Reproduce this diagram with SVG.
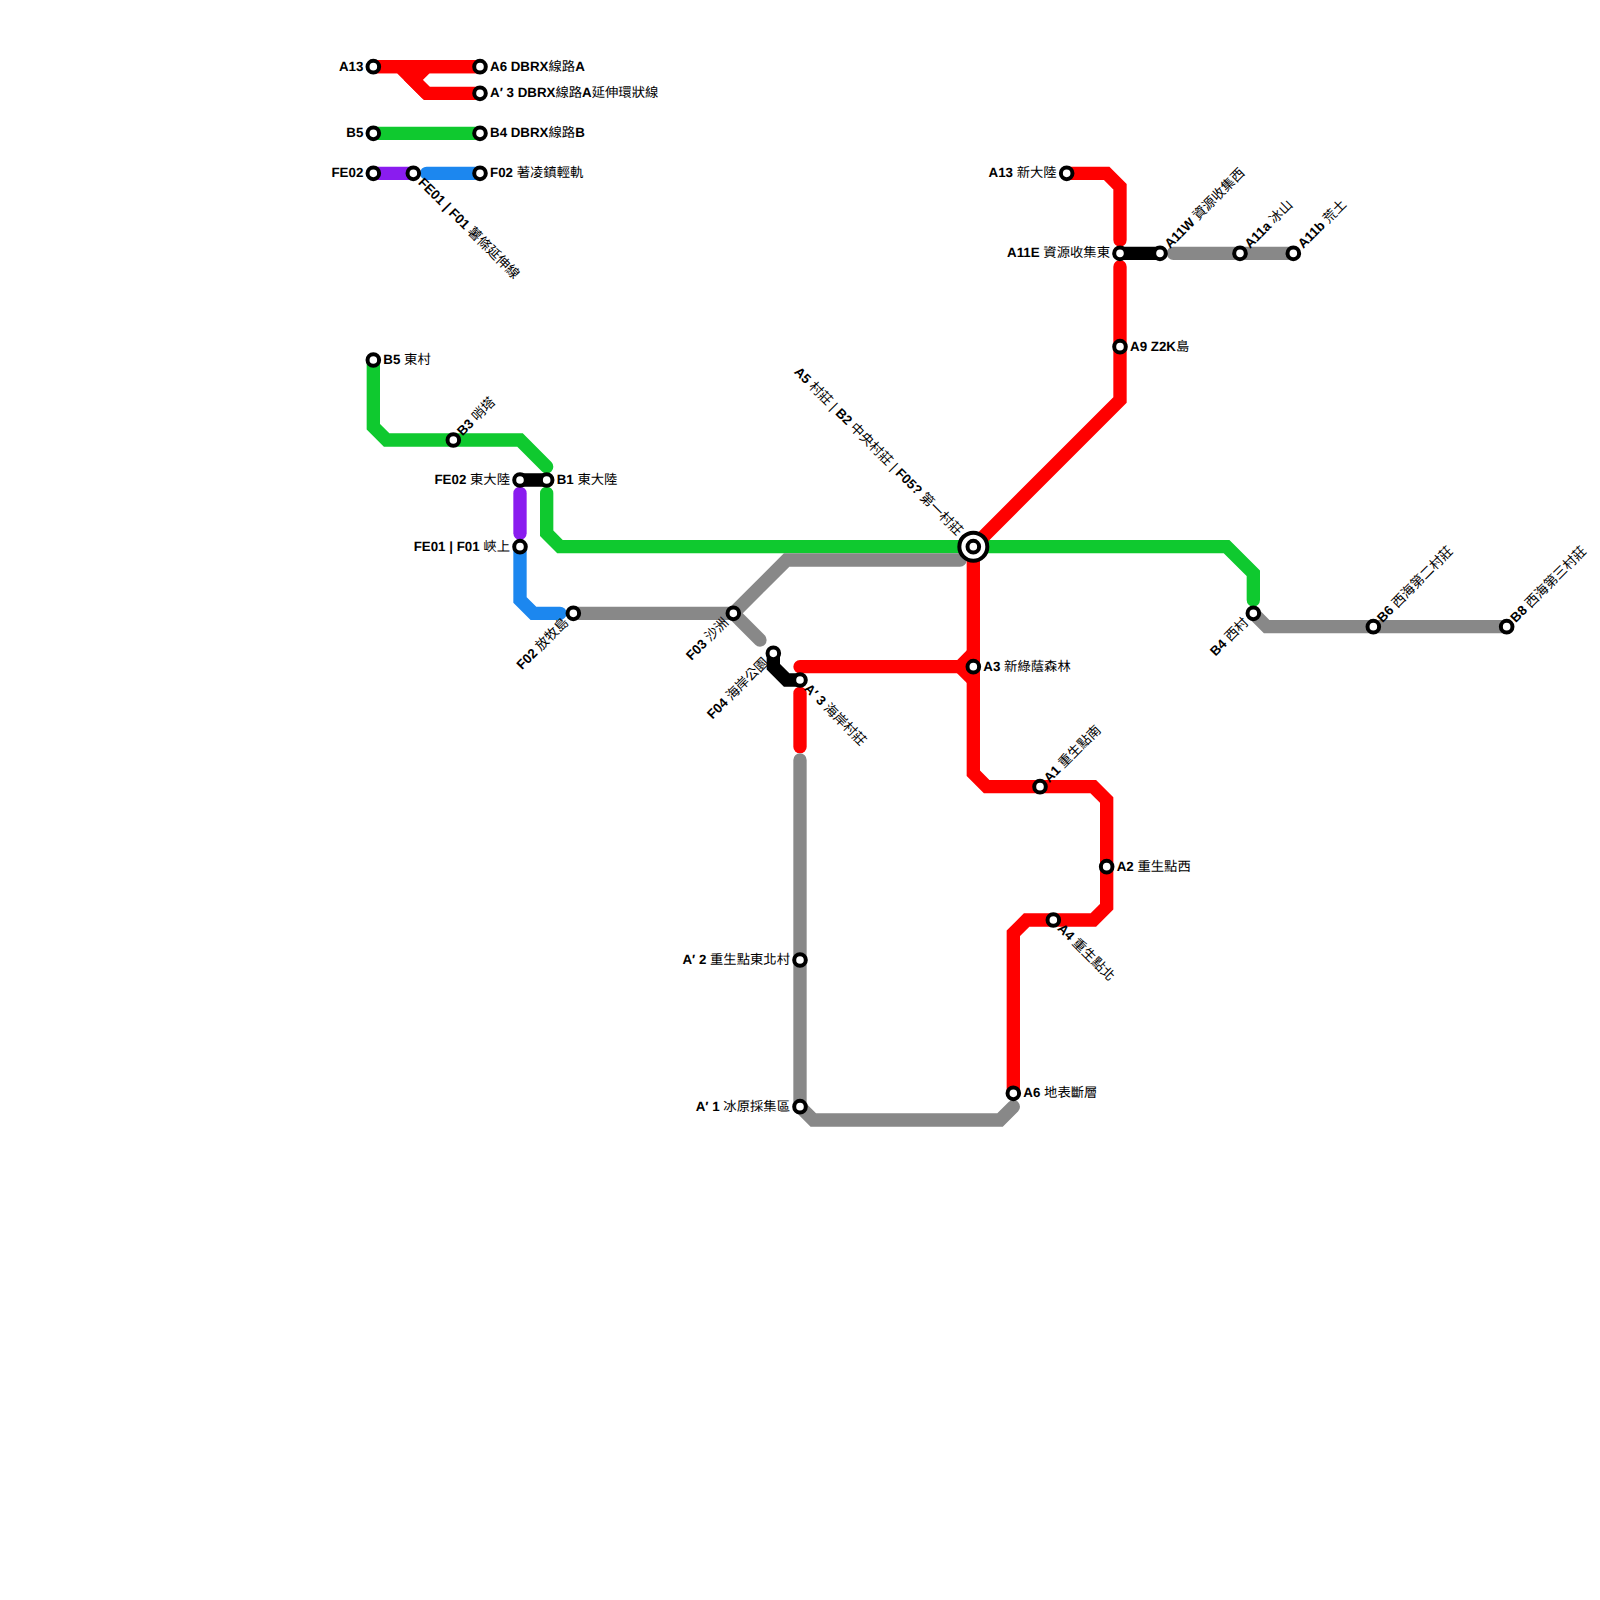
<svg xmlns="http://www.w3.org/2000/svg" width="1600" height="1600" viewBox="0 0 1600 1600">
<style>
text{font-family:"Liberation Sans","Noto Sans CJK TC",sans-serif;font-size:13.33px;fill:#000;text-rendering:geometricPrecision}
.b{font-weight:700}
.l{fill:none;stroke-width:13.33;stroke-linecap:round;stroke-linejoin:miter}
.red{stroke:#ff0000}.grn{stroke:#0fc92f}.blu{stroke:#1c87ef}.pur{stroke:#8a1cef}.gry{stroke:#888888}.blk{stroke:#000}
.s{fill:#fff;stroke:#000;stroke-width:4}
.e{text-anchor:end}
</style>
<rect width="1600" height="1600" fill="#fff"/>
<g id="connectors">
<path class="l red" d="M373.33 66.67H480"/>
<path class="l red" d="M373.33 66.67H400L426.67 93.33H480"/>
<path class="l red" d="M480 66.67H426.67L413.33 80L426.67 93.33"/>
<path class="l grn" d="M373.33 133.33H480"/>
<path class="l pur" d="M373.33 173.33H413.33"/>
<path class="l blu" d="M426.67 173.33H480"/>
<path class="l grn" d="M373.33 360V426.67L386.67 440H520L546.67 466.67"/>
<path class="l grn" d="M546.67 493.33V533.33L560 546.67H1226.67L1253.33 573.33V600"/>
<path class="l pur" d="M520 493.33V533.33"/>
<path class="l blu" d="M520 546.67V600L533.33 613.33H560"/>
<path class="l blk" d="M520 480H546.67"/>
<path class="l gry" d="M573.33 613.33H733.33L786.67 560H960"/>
<path class="l gry" d="M733.33 613.33L760 640"/>
<path class="l blk" d="M773.33 653.33V666.67L786.67 680H800"/>
<path class="l red" d="M973.33 546.67V773.33L986.67 786.67H1093.33L1106.67 800V906.67L1093.33 920H1026.67L1013.33 933.33V1093.33"/>
<path class="l red" d="M800 666.67H960L973.33 653.33"/>
<path class="l red" d="M960 666.67L973.33 680"/>
<path class="l red" d="M800 693.33V746.67"/>
<path class="l gry" d="M800 760V1106.67L813.33 1120H1000L1013.33 1106.67"/>
<path class="l red" d="M1066.67 173.33H1106.67L1120 186.67V240"/>
<path class="l red" d="M1120 266.67V400L973.33 546.67"/>
<path class="l blk" d="M1120 253.33H1160"/>
<path class="l gry" d="M1173.33 253.33H1293.33"/>
<path class="l gry" d="M1253.33 613.33L1266.67 626.67H1506.67"/>
</g>
<g id="n-a13-legend" transform="translate(373.33 66.67)"><circle class="s" r="5.8"/><text class="e" x="-10" y="4"><tspan class="b">A13</tspan></text></g>
<g id="n-a6-legend" transform="translate(480 66.67)"><circle class="s" r="5.8"/><text x="10" y="4"><tspan class="b">A6 DBRX</tspan>線路<tspan class="b">A</tspan></text></g>
<g id="n-a3p-legend" transform="translate(480 93.33)"><circle class="s" r="5.8"/><text x="10" y="4"><tspan class="b">A′ 3 DBRX</tspan>線路<tspan class="b">A</tspan>延伸環狀線</text></g>
<g id="n-b5-legend" transform="translate(373.33 133.33)"><circle class="s" r="5.8"/><text class="e" x="-10" y="4"><tspan class="b">B5</tspan></text></g>
<g id="n-b4-legend" transform="translate(480 133.33)"><circle class="s" r="5.8"/><text x="10" y="4"><tspan class="b">B4 DBRX</tspan>線路<tspan class="b">B</tspan></text></g>
<g id="n-fe02-legend" transform="translate(373.33 173.33)"><circle class="s" r="5.8"/><text class="e" x="-10" y="4"><tspan class="b">FE02</tspan></text></g>
<g id="n-fe01-legend" transform="translate(413.33 173.33)"><circle class="s" r="5.8"/><text x="10" y="4" transform="rotate(45)"><tspan class="b">FE01 | F01</tspan> 薯條延伸線</text></g>
<g id="n-f02-legend" transform="translate(480 173.33)"><circle class="s" r="5.8"/><text x="10" y="4"><tspan class="b">F02</tspan> 著凌鎮輕軌</text></g>
<g id="n-b5" transform="translate(373.33 360)"><circle class="s" r="5.8"/><text x="10" y="4"><tspan class="b">B5</tspan> 東村</text></g>
<g id="n-b3" transform="translate(453.33 440)"><circle class="s" r="5.8"/><text x="9" y="4" transform="rotate(-45)"><tspan class="b">B3</tspan> 哨塔</text></g>
<g id="n-fe02" transform="translate(520 480)"><circle class="s" r="5.8"/><text class="e" x="-10" y="4"><tspan class="b">FE02</tspan> 東大陸</text></g>
<g id="n-b1" transform="translate(546.67 480)"><circle class="s" r="5.8"/><text x="10" y="4"><tspan class="b">B1</tspan> 東大陸</text></g>
<g id="n-fe01" transform="translate(520 546.67)"><circle class="s" r="5.8"/><text class="e" x="-10" y="4"><tspan class="b">FE01 | F01</tspan> 峽上</text></g>
<g id="n-f02" transform="translate(573.33 613.33)"><circle class="s" r="5.8"/><text class="e" x="-10" y="4" transform="rotate(-45)"><tspan class="b">F02</tspan> 放牧島</text></g>
<g id="n-f03" transform="translate(733.33 613.33)"><circle class="s" r="5.8"/><text class="e" x="-10" y="4" transform="rotate(-45)"><tspan class="b">F03</tspan> 沙洲</text></g>
<g id="n-f04" transform="translate(773.33 653.33)"><circle class="s" r="5.8"/><text class="e" x="-10" y="4" transform="rotate(-45)"><tspan class="b">F04</tspan> 海岸公園</text></g>
<g id="n-a3p" transform="translate(800 680)"><circle class="s" r="5.8"/><text x="9" y="4" transform="rotate(45)"><tspan class="b">A′ 3</tspan> 海岸村莊</text></g>
<g id="n-a2p" transform="translate(800 960)"><circle class="s" r="5.8"/><text class="e" x="-10" y="4"><tspan class="b">A′ 2</tspan> 重生點東北村</text></g>
<g id="n-a1p" transform="translate(800 1106.67)"><circle class="s" r="5.8"/><text class="e" x="-10" y="4"><tspan class="b">A′ 1</tspan> 冰原採集區</text></g>
<g id="n-hub" transform="translate(973.33 546.67)"><circle class="s" r="14" stroke-width="3.5"/><circle class="s" r="5.8"/><text class="e" x="-19" y="4" transform="rotate(45)"><tspan class="b">A5</tspan> 村莊 | <tspan class="b">B2</tspan> 中央村莊 | <tspan class="b">F05?</tspan> 第一村莊</text></g>
<g id="n-a3" transform="translate(973.33 666.67)"><circle class="s" r="5.8"/><text x="10" y="4"><tspan class="b">A3</tspan> 新綠蔭森林</text></g>
<g id="n-a1" transform="translate(1040 786.67)"><circle class="s" r="5.8"/><text x="9" y="4" transform="rotate(-45)"><tspan class="b">A1</tspan> 重生點南</text></g>
<g id="n-a2" transform="translate(1106.67 866.67)"><circle class="s" r="5.8"/><text x="10" y="4"><tspan class="b">A2</tspan> 重生點西</text></g>
<g id="n-a4" transform="translate(1053.33 920)"><circle class="s" r="5.8"/><text x="9" y="4" transform="rotate(45)"><tspan class="b">A4</tspan> 重生點北</text></g>
<g id="n-a6" transform="translate(1013.33 1093.33)"><circle class="s" r="5.8"/><text x="10" y="4"><tspan class="b">A6</tspan> 地表斷層</text></g>
<g id="n-a13" transform="translate(1066.67 173.33)"><circle class="s" r="5.8"/><text class="e" x="-10" y="4"><tspan class="b">A13</tspan> 新大陸</text></g>
<g id="n-a11e" transform="translate(1120 253.33)"><circle class="s" r="5.8"/><text class="e" x="-10" y="4"><tspan class="b">A11E</tspan> 資源收集東</text></g>
<g id="n-a11w" transform="translate(1160 253.33)"><circle class="s" r="5.8"/><text x="10" y="4" transform="rotate(-45)"><tspan class="b">A11W</tspan> 資源收集西</text></g>
<g id="n-a11a" transform="translate(1240 253.33)"><circle class="s" r="5.8"/><text x="10" y="4" transform="rotate(-45)"><tspan class="b">A11a</tspan> 冰山</text></g>
<g id="n-a11b" transform="translate(1293.33 253.33)"><circle class="s" r="5.8"/><text x="10" y="4" transform="rotate(-45)"><tspan class="b">A11b</tspan> 荒土</text></g>
<g id="n-a9" transform="translate(1120 346.67)"><circle class="s" r="5.8"/><text x="10" y="4"><tspan class="b">A9 Z2K</tspan>島</text></g>
<g id="n-b4" transform="translate(1253.33 613.33)"><circle class="s" r="5.8"/><text class="e" x="-10" y="4" transform="rotate(-45)"><tspan class="b">B4</tspan> 西村</text></g>
<g id="n-b6" transform="translate(1373.33 626.67)"><circle class="s" r="5.8"/><text x="9" y="4" transform="rotate(-45)"><tspan class="b">B6</tspan> 西海第二村莊</text></g>
<g id="n-b8" transform="translate(1506.67 626.67)"><circle class="s" r="5.8"/><text x="9" y="4" transform="rotate(-45)"><tspan class="b">B8</tspan> 西海第三村莊</text></g>
</svg>
